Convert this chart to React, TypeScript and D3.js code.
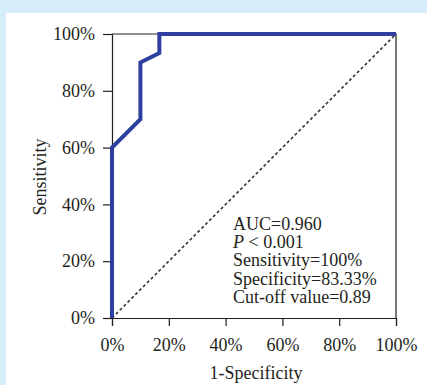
import React, { useEffect, useRef } from 'react';
import * as d3 from 'd3';

// ROC curve points
const fprValues = [0, 0, 0.1, 0.1, 0.1667, 0.1667, 1];
const tprValues = [0, 0.6, 0.7, 0.9, 0.933, 1, 1];
const tickValues = [0, 0.2, 0.4, 0.6, 0.8, 1];
const xLabel = '1-Specificity';
const yLabel = 'Sensitivity';
const statLines = [
  'AUC=0.960',
  'P < 0.001',
  'Sensitivity=100%',
  'Specificity=83.33%',
  'Cut-off value=0.89',
];

const App = () => {
  const svgRef = useRef<SVGSVGElement>(null);

  useEffect(() => {
    const W = 427;
    const H = 385;
    const margin = { top: 34, left: 112, right: 31, bottom: 67 };
    const width = W - margin.left - margin.right;
    const height = H - margin.top - margin.bottom;
    const font = '"Liberation Serif", "DejaVu Serif", serif';
    const ink = '#231f20';

    const svg = d3.select(svgRef.current);
    svg.selectAll('*').remove();
    svg.attr('width', W).attr('height', H);

    svg.append('rect').attr('width', W).attr('height', H).attr('fill', '#d6edf9');
    svg.append('rect').attr('x', 6).attr('y', 13).attr('width', W - 6).attr('height', H - 13).attr('fill', '#ffffff');

    const g = svg.append('g').attr('transform', `translate(${margin.left},${margin.top})`);

    const xScale = d3.scaleLinear().domain([0, 1]).range([0, width]);
    const yScale = d3.scaleLinear().domain([0, 1]).range([height, 0]);
    const fmt = d3.format('.0%');

    const xAxis = g.append('g')
      .attr('transform', `translate(0,${height})`)
      .call(d3.axisBottom(xScale).tickValues(tickValues).tickFormat(d => fmt(d as number)).tickSize(8).tickPadding(12));
    const yAxis = g.append('g')
      .call(d3.axisLeft(yScale).tickValues(tickValues).tickFormat(d => fmt(d as number)).tickSize(9).tickPadding(8));

    [xAxis, yAxis].forEach(ax => {
      ax.attr('font-size', null).attr('font-family', null);
      ax.select('.domain').attr('stroke', ink).attr('stroke-width', 1.2);
      ax.selectAll('.tick line').attr('stroke', ink).attr('stroke-width', 1.2);
      ax.selectAll('.tick text')
        .attr('fill', ink)
        .style('font-family', font)
        .style('font-size', '18px');
    });

    // top and right frame
    g.append('path')
      .attr('d', `M0,0H${width}V${height}`)
      .attr('fill', 'none')
      .attr('stroke', ink)
      .attr('stroke-width', 1.2);

    // reference diagonal
    g.append('line')
      .attr('x1', xScale(0)).attr('y1', yScale(0))
      .attr('x2', xScale(1)).attr('y2', yScale(1))
      .attr('stroke', '#333')
      .attr('stroke-width', 1.6)
      .attr('stroke-dasharray', '3,2.5');

    const line = d3.line<number>()
      .x(d => xScale(fprValues[d]))
      .y(d => yScale(tprValues[d]));

    g.append('path')
      .datum(d3.range(fprValues.length))
      .attr('d', line)
      .attr('fill', 'none')
      .attr('stroke', '#2f3f9f')
      .attr('stroke-width', 4)
      .attr('stroke-linejoin', 'miter');

    const stats = g.append('text')
      .attr('x', 121)
      .attr('y', 196)
      .attr('fill', ink)
      .style('font-family', font)
      .style('font-size', '18px');
    statLines.forEach((s, i) => {
      const t = stats.append('tspan').attr('x', 121).attr('dy', i === 0 ? 0 : 18.2);
      if (s.startsWith('P ')) {
        t.append('tspan').style('font-style', 'italic').text('P');
        t.append('tspan').text(s.slice(1));
      } else {
        t.text(s);
      }
    });

    g.append('text')
      .attr('text-anchor', 'middle')
      .attr('x', width / 2 + 2)
      .attr('y', height + 61)
      .attr('fill', ink)
      .style('font-family', font)
      .style('font-size', '18px')
      .text(xLabel);

    g.append('text')
      .attr('text-anchor', 'middle')
      .attr('transform', `translate(${-margin.left + 46},${height / 2 + 1}) rotate(-90)`)
      .attr('fill', ink)
      .style('font-family', font)
      .style('font-size', '18px')
      .text(yLabel);
  }, []);

  return <svg ref={svgRef} style={{ position: 'absolute', left: 0, top: 0, display: 'block' }}></svg>;
};

export default App;
